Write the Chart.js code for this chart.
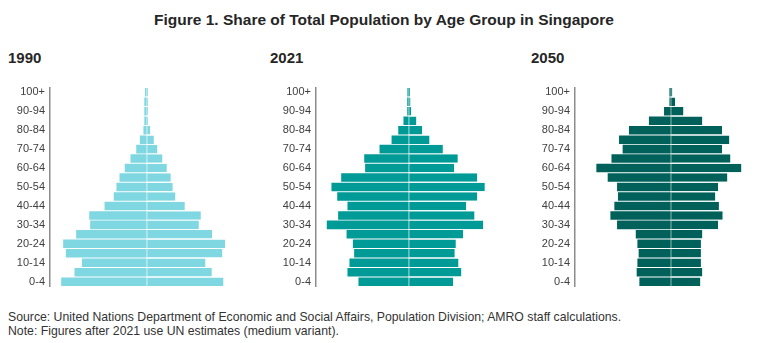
<!DOCTYPE html>
<html>
<head>
<meta charset="utf-8">
<script src="https://cdn.jsdelivr.net/npm/chart.js@4.4.1/dist/chart.umd.min.js"></script>
<style>
  body { margin: 0; width: 768px; height: 343px; background: #fff; position: relative; overflow: hidden;
         font-family: "Liberation Sans", Arial, sans-serif; color: #262626; }
  .title { position: absolute; left: 0; top: 10px; width: 768px; text-align: center;
           font-weight: bold; font-size: 15.5px; line-height: 20px; }
  .year { position: absolute; top: 49px; font-weight: bold; font-size: 15px; line-height: 18px; }
  canvas { position: absolute; top: 76px; }
  .notes { position: absolute; left: 8px; top: 310px; font-size: 12.25px; line-height: 14px; color: #333; }
</style>
</head>
<body>
<div class="title">Figure 1. Share of Total Population by Age Group in Singapore</div>
<div class="year" style="left:8px">1990</div>
<div class="year" style="left:270px">2021</div>
<div class="year" style="left:531px">2050</div>
<canvas id="c1990" width="240" height="222"></canvas>
<canvas id="c2021" width="240" height="222"></canvas>
<canvas id="c2050" width="240" height="222"></canvas>
<div class="notes">
  Source: United Nations Department of Economic and Social Affairs, Population Division; AMRO staff calculations.<br>
  Note: Figures after 2021 use UN estimates (medium variant).
</div>

<script>
// age groups, youngest first (drawn bottom to top)
const ageGroups = ['0-4', '5-9', '10-14', '15-19', '20-24', '25-29', '30-34', '35-39', '40-44', '45-49',
  '50-54', '55-59', '60-64', '65-69', '70-74', '75-79', '80-84', '85-89', '90-94', '95-99', '100+'];

// share of total population (%), left half / right half of each pyramid
const left1990 = [4.74, 4.00, 3.59, 4.48, 4.63, 3.91, 3.13, 3.18, 2.33, 1.82,
  1.67, 1.50, 1.21, 0.89, 0.57, 0.37, 0.17, 0.12, 0.12, 0.12, 0.08];
const right1990 = [4.28, 3.63, 3.28, 4.22, 4.37, 3.65, 2.91, 3.02, 2.13, 1.61,
  1.46, 1.35, 1.13, 0.89, 0.61, 0.41, 0.21, 0.08, 0.08, 0.08, 0.08];

const left2021 = [2.78, 3.39, 3.28, 3.02, 3.09, 3.44, 4.54, 3.91, 3.39, 3.96,
  4.28, 3.74, 2.41, 2.46, 1.61, 0.94, 0.57, 0.28, 0.07, 0.07, 0.06];
const right2021 = [2.48, 2.94, 2.78, 2.57, 2.63, 3.04, 4.15, 3.67, 3.21, 3.82,
  4.24, 3.82, 2.54, 2.74, 1.91, 1.17, 0.76, 0.44, 0.15, 0.11, 0.09];

const left2050 = [1.74, 1.89, 1.85, 1.78, 1.85, 1.94, 2.98, 3.35, 3.13, 2.93,
  2.98, 3.50, 4.13, 3.29, 2.67, 2.87, 2.32, 1.21, 0.37, 0.07, 0.07];
const right2050 = [1.65, 1.76, 1.68, 1.68, 1.68, 1.76, 2.63, 2.89, 2.68, 2.48,
  2.63, 3.15, 3.93, 3.32, 2.85, 3.26, 2.85, 1.76, 0.71, 0.24, 0.09];

const PX_PER_PCT = 18;   // horizontal scale shared by the three pyramids
const AXIS_W = 45;       // width reserved for the age labels
const PLOT_W = 195;

const panels = [
  { id: 'c1990', left: left1990, right: right1990, color: '#7fd7e1', edge: '#8edbe4', x: 5, centre: 96.5 },
  { id: 'c2021', left: left2021, right: right2021, color: '#009a97', edge: '#22a8a5', x: 271, centre: 92.5 },
  { id: 'c2050', left: left2050, right: right2050, color: '#00605a', edge: '#1f716c', x: 530, centre: 95.7 }
];

function barSet(values, color, edge, isRight) {
  return {
    data: values,
    backgroundColor: color,
    borderColor: edge,
    // faint line down the middle, drawn as the inner edge of the right half
    borderWidth: isRight ? { left: 1, right: 0, top: 0, bottom: 0 } : 0,
    borderSkipped: false,
    barPercentage: 0.9,
    categoryPercentage: 1
  };
}

panels.forEach(p => {
  const canvas = document.getElementById(p.id);
  canvas.style.left = p.x + 'px';

  new Chart(canvas, {
    type: 'bar',
    data: {
      labels: ageGroups,
      datasets: [
        barSet(p.left.map(v => -v), p.color, p.edge, false),
        barSet(p.right, p.color, p.edge, true)
      ]
    },
    options: {
      indexAxis: 'y',
      responsive: false,
      animation: false,
      devicePixelRatio: 1,
      layout: { padding: { top: 10, bottom: 10.4, left: 0, right: 0 } },
      plugins: { legend: { display: false }, tooltip: { enabled: false } },
      scales: {
        x: {
          display: false,
          stacked: true,
          min: -p.centre / PX_PER_PCT,
          max: (PLOT_W - p.centre) / PX_PER_PCT
        },
        y: {
          stacked: true,
          reverse: true,
          grid: { display: false, drawTicks: false },
          border: { display: true, color: '#8c8c8c', width: 1.5 },
          afterFit: scale => { scale.width = AXIS_W; },
          ticks: {
            autoSkip: false,
            padding: 5,
            color: '#404040',
            font: { family: '"Liberation Sans", Arial, sans-serif', size: 11 },
            callback: function(value, index) {
              return index % 2 === 0 ? this.getLabelForValue(value) : '';
            }
          }
        }
      }
    }
  });
});
</script>
</body>
</html>
